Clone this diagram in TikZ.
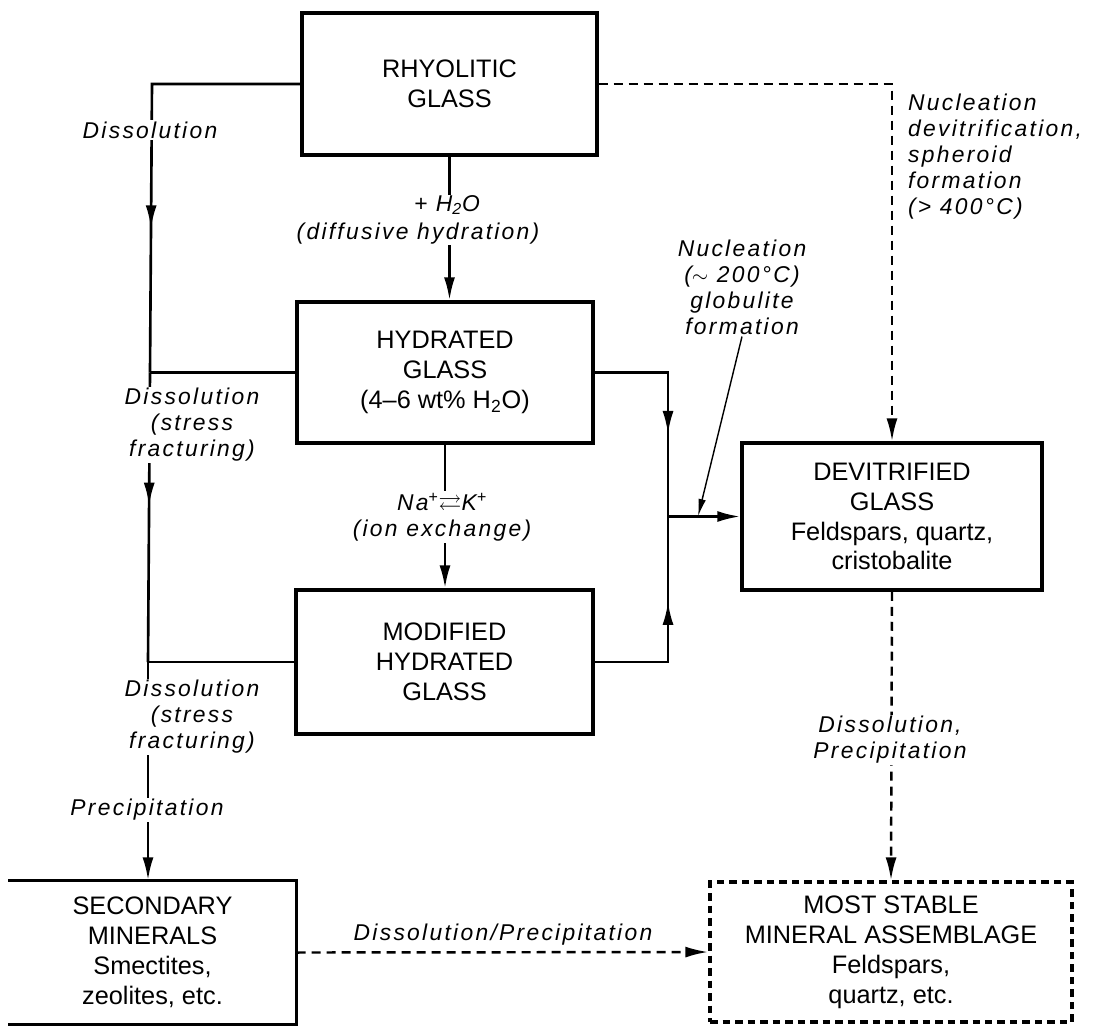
\documentclass[tikz,border=0pt]{standalone}
\usepackage{amssymb}
\usepackage{fontspec}
\setmainfont{Liberation Sans}
\newfontfamily\lblfamily[LetterSpace=10]{Liberation Sans}
\usetikzlibrary{arrows.meta,decorations.markings}

\tikzset{
  glassbox/.style={draw, line width=2pt, align=center, inner sep=0pt,
    font=\fontsize{14.4}{17}\selectfont},
  flow/.style={line width=1.5pt},
  dashflow/.style={line width=1.4pt, dash pattern=on 1.8mm off 1.2mm},
  tip/.style={-{Latex[length=4.6mm,width=2.2mm]}},
  midtip/.style={postaction={decorate},
    decoration={markings, mark=at position #1 with {\arrow{Latex[length=4.6mm,width=2.2mm]}}}},
  proc/.style={align=center, fill=white, inner sep=1pt,
    font=\lblfamily\itshape\fontsize{13}{14.8}\selectfont},
}

\begin{document}
\begin{tikzpicture}[x=0.02cm, y=-0.02cm]
\useasboundingbox (0,0) rectangle (1097,1025);

% glass stages
\node[glassbox, minimum width=5.9cm, minimum height=2.84cm] (rhy) at (449.5,84) {RHYOLITIC\\GLASS};
\node[glassbox, minimum width=5.92cm, minimum height=2.82cm] (hyd) at (445,372.5) {HYDRATED\\GLASS\\(4--6 wt\% H\textsubscript{2}O)};
\node[glassbox, minimum width=5.94cm, minimum height=2.88cm] (mod) at (444.5,662) {MODIFIED\\HYDRATED\\GLASS};
\node[glassbox, minimum width=6cm, minimum height=2.94cm] (dev) at (892,516.5) {DEVITRIFIED\\GLASS\\Feldspars, quartz,\\cristobalite};

% end products
\node[glassbox, draw=none, minimum width=5.7cm, minimum height=2.82cm] (sec) at (152.5,952.5) {SECONDARY\\MINERALS\\Smectites,\\zeolites, etc.};
\draw[line width=2pt] (sec.north west) -- (sec.north east) -- (sec.south east) -- (sec.south west);
\node[glassbox, dash pattern=on 1.5mm off 1mm, minimum width=7.24cm, minimum height=2.8cm] (stab) at (891,952) {MOST STABLE\\MINERAL ASSEMBLAGE\\Feldspars,\\quartz, etc.};

% corners of the connectors
\coordinate (lt) at (152,84);
\coordinate (lm) at (150,372.5);
\coordinate (lb) at (148,662);
\coordinate (rt) at (668,372.5);
\coordinate (rm) at (668,516.5);
\coordinate (rb) at (668,662);
\coordinate (dt) at (892,84);
\coordinate (nuc) at (698,516.5);

% dissolution branch on the left
\draw[flow, midtip=0.67] (rhy.west) -- (lt) -- (lm);
\draw[flow] (hyd.west) -- (lm);
\draw[flow, midtip=0.46] (lm) -- (lb);
\draw[flow] (mod.west) -- (lb);
\draw[flow, tip] (lb) -- (lb |- sec.north);

% hydration and ion exchange
\node[proc, fill=none, inner sep=0pt] (wat) at (447,205) {+ H\textsubscript{2}O};
\node[proc, fill=none, inner sep=0pt] (diff) at (418,234) {(diffusive hydration)};
\draw[flow] (rhy.south) -- (rhy.south |- wat.north);
\draw[flow, tip] (rhy.south |- diff.south) -- (rhy.south |- hyd.north);
\draw[flow, tip] (hyd.south) -- (hyd.south |- mod.north);

% nucleation at low temperature
\draw[flow, midtip=0.62] (hyd.east) -- (rt) -- (rm);
\draw[flow, midtip=0.61] (mod.east) -- (rb) -- (rm);
\draw[flow, tip] (rm) -- (dev.west);

% dashed routes
\draw[dashflow, tip] (rhy.east) -- (dt) -- (dev.north);
\draw[dashflow, tip] (dev.south) -- (stab.north);
\draw[dashflow, tip] (sec.east) -- (stab.west);

% process labels
\node[proc] (dis1) at (150,130) {Dissolution};
\node[proc] (dis2) at (192,425) {Dissolution\\(stress\\fracturing)};
\node[proc] (dis3) at (192,717) {Dissolution\\(stress\\fracturing)};
\node[proc] (prec) at (147,810) {Precipitation};
\node[proc] (ion) at (442,517) {Na\textsuperscript{+}$\rightleftarrows$K\textsuperscript{+}\\(ion exchange)};
\node[proc] (nuc2) at (742,287) {Nucleation\\($\sim$ 200°C)\\globulite\\formation};
\draw[line width=0.8pt, -{Latex[length=3.5mm,width=1.5mm]}] (nuc2.south) -- (nuc);
\node[proc, align=left, anchor=west] (nuc4) at (906,157) {Nucleation\\devitrification,\\spheroid\\formation\\(> 400°C)};
\node[proc] (dp1) at (890,740) {Dissolution,\\Precipitation};
\node[proc, fill=none] (dp2) at (503,935) {Dissolution/Precipitation};
\end{tikzpicture}
\end{document}
